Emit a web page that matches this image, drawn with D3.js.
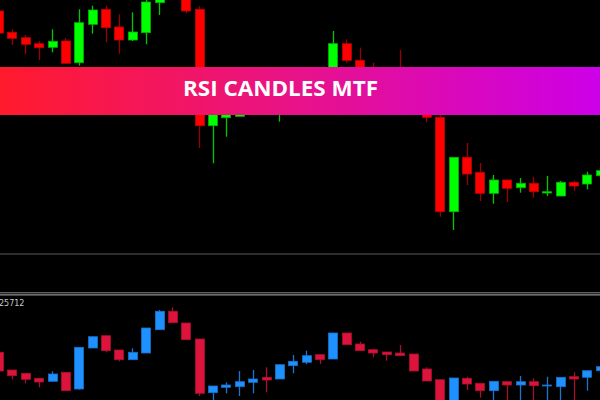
<!DOCTYPE html>
<html>
<head>
<meta charset="utf-8">
<script src="https://cdn.jsdelivr.net/npm/d3@7/dist/d3.min.js"></script>
<style>
html,body{margin:0;padding:0;background:#000;}
svg{display:block;}
</style>
</head>
<body>
<svg id="chart" width="600" height="400"></svg>
<script>
// ---- Data ----
const titleText = "RSI CANDLES MTF";
const priceLabel = "25712";

// Upper panel (price candles) – arbitrary price units
const topOpen  = [242,220.7,215.3,209.3,205.7,212,190.3,228.7,243.7,226,213,220.3,250.3,265,275,243.7,127.3,135.3,136.7,143,165,141,163,173,184,178,209.3,192.7,183,178,183,165,150,135.7,41.3,95.7,80.7,59.7,73,65.3,69.7,60,57,70.7,69,77.3];
const topHigh  = [242,223.7,218,212,223.7,215,243.7,247.3,247.3,238.7,240.7,258,268,288,281,247,153,153,163,173,169,177,184,184,184,222,213.7,205.3,190.3,181,203,171,155,143,95.7,110,90,78,73,75,76.3,77,72,72.3,81.3,85];
const topLow   = [220,208,198.7,193,200.7,189.7,187.3,219.3,210.7,199.3,212,208.7,238,258,239.7,105,89.7,116.3,136.7,141,141,131.3,158,169,163,173,190.3,173,168,156,153,143,130.7,36.3,23,68,52,49.3,51,60.3,55.3,57,57,62,63.7,75];
const topClose = [220,214.7,208.7,205.3,211.7,189.7,230.3,243,225.3,213,221,251,263,278,242,127.3,141,148,158,168,145,173,180,182,168,209.3,192.7,178,173,161,163,148,135.7,41.3,95.7,79,59.7,73,64.7,69.7,61.3,61.3,70.7,67,78,82.3];

// Lower panel (RSI candles)
const rsiOpen  = [47.7,30,26.7,21.7,18.7,27.7,11,52,64.3,50,40.3,47,70.3,88.7,77,61,7.3,12.7,13.3,17.7,22.7,21,34.3,37.7,45.3,41,67,56,50.3,48,47,46,31,20.3,-5,21.7,16.7,9.3,18.3,15,18.3,14,13.3,23.3,22.7,29.3];
const rsiHigh  = [47.7,30,26.7,21.7,28.7,27.7,52.7,63.3,64.3,50,51.7,72,90,92.7,77,61,14,17.7,29,30,32.7,35.3,45,49.3,45.3,67,67,58.3,50.3,48,55,46,32.7,20.3,22,23.3,16.7,18.7,18.3,24,21.7,23.3,22.7,27.7,29.3,33.3];
const rsiLow   = [29,20.7,16.7,12.7,18.7,9.3,10.3,52,47.7,38.7,40.3,47,70.3,77.3,60.3,4,-2,6.7,4,6.7,7.7,21,26.7,36,36,41,55.3,49.3,42.7,39.3,44.3,29,19,-8,-8,10,2.3,-2,-2,-2,-2,-2,-2,-2,9.3,27];
const rsiClose = [29,24.3,20.7,18,26,9.3,52.7,63.3,49.3,40.3,47.7,72,88.7,77.3,60.3,6.7,14,15,18.3,21,20,35.3,38.7,44.3,40.3,67,55.3,49.3,47,45.3,44.3,29,19,-5,22,16,9.3,18.7,15,18.3,14.3,15,22.7,21,29.3,33.3];

const topCandles = topOpen.map((o,i)=>({i, o, h:topHigh[i], l:topLow[i], c:topClose[i]}));
const rsiCandles = rsiOpen.map((o,i)=>({i, o, h:rsiHigh[i], l:rsiLow[i], c:rsiClose[i]}));

// ---- Layout ----
const W = 600, H = 400;
const svg = d3.select("#chart");
svg.append("rect").attr("width",W).attr("height",H).attr("fill","#000");

const x = d3.scaleLinear().domain([0, topOpen.length-1]).range([-1.4, 600.3]);
const bodyW = 9;

const yTop = d3.scaleLinear().domain([0, 253]).range([253, 0]);
const yRsi = d3.scaleLinear().domain([0, 105]).range([400, 295]);

const defs = svg.append("defs");
defs.append("clipPath").attr("id","clipTop").append("rect").attr("x",0).attr("y",0).attr("width",W).attr("height",253);
defs.append("clipPath").attr("id","clipRsi").append("rect").attr("x",0).attr("y",296).attr("width",W).attr("height",104);

function drawCandles(g, data, y, up, down) {
  const sel = g.selectAll("g.c").data(data).join("g").attr("class","c");
  sel.append("line")
    .attr("x1", d=>Math.round(x(d.i))+0.5)
    .attr("x2", d=>Math.round(x(d.i))+0.5)
    .attr("y1", d=>y(d.h)).attr("y2", d=>y(d.l))
    .attr("stroke", d=> d.c>=d.o ? up.wick : down.wick)
    .attr("stroke-width", 1.3);
  sel.append("rect")
    .attr("x", d=>Math.round(x(d.i)-bodyW/2)+0.5)
    .attr("width", bodyW)
    .attr("y", d=>y(Math.max(d.o,d.c)))
    .attr("height", d=>Math.max(1, Math.abs(y(d.o)-y(d.c))))
    .attr("fill", d=> d.c>=d.o ? up.body : down.body)
    .attr("stroke", d=> d.c>=d.o ? up.edge : down.edge)
    .attr("stroke-width", 0.8);
}

const gTop = svg.append("g").attr("clip-path","url(#clipTop)");
drawCandles(gTop, topCandles, yTop,
  {body:"#00ff00", edge:"#00b400", wick:"#00c800"},
  {body:"#ff0000", edge:"#c00000", wick:"#9a0000"});

const gRsi = svg.append("g").attr("clip-path","url(#clipRsi)");
drawCandles(gRsi, rsiCandles, yRsi,
  {body:"#1e90ff", edge:"#1a70c8", wick:"#1c74cc"},
  {body:"#dc143c", edge:"#a8102e", wick:"#a8102e"});

// separators
svg.append("line").attr("x1",0).attr("x2",W).attr("y1",254).attr("y2",254)
  .attr("stroke","#3c3c3c").attr("stroke-width",1.6);
svg.append("line").attr("x1",0).attr("x2",W).attr("y1",292.8).attr("y2",292.8)
  .attr("stroke","#8a8a8a").attr("stroke-width",1);
svg.append("line").attr("x1",0).attr("x2",W).attr("y1",294.9).attr("y2",294.9)
  .attr("stroke","#b4b4b4").attr("stroke-width",1);

svg.append("text").attr("x",-1).attr("y",306)
  .attr("font-family","DejaVu Sans, sans-serif").attr("font-size",8)
  .attr("fill","#c8c8c8").text(priceLabel);

// banner
const grad = defs.append("linearGradient").attr("id","bannerGrad")
  .attr("x1","0%").attr("x2","100%").attr("y1","0%").attr("y2","0%");
grad.append("stop").attr("offset","0%").attr("stop-color","#ff1a2c");
grad.append("stop").attr("offset","50%").attr("stop-color","#e8128a");
grad.append("stop").attr("offset","100%").attr("stop-color","#cc00e8");
svg.append("rect").attr("x",0).attr("y",67).attr("width",W).attr("height",48)
  .attr("fill","url(#bannerGrad)");
svg.append("text").attr("x",280.5).attr("y",95.5)
  .attr("text-anchor","middle")
  .attr("font-family","'Open Sans', Lato, sans-serif").attr("font-weight",700)
  .attr("font-size",22).attr("fill","#fff")
  .attr("textLength",195).attr("lengthAdjust","spacingAndGlyphs")
  .text(titleText);
</script>
</body>
</html>
